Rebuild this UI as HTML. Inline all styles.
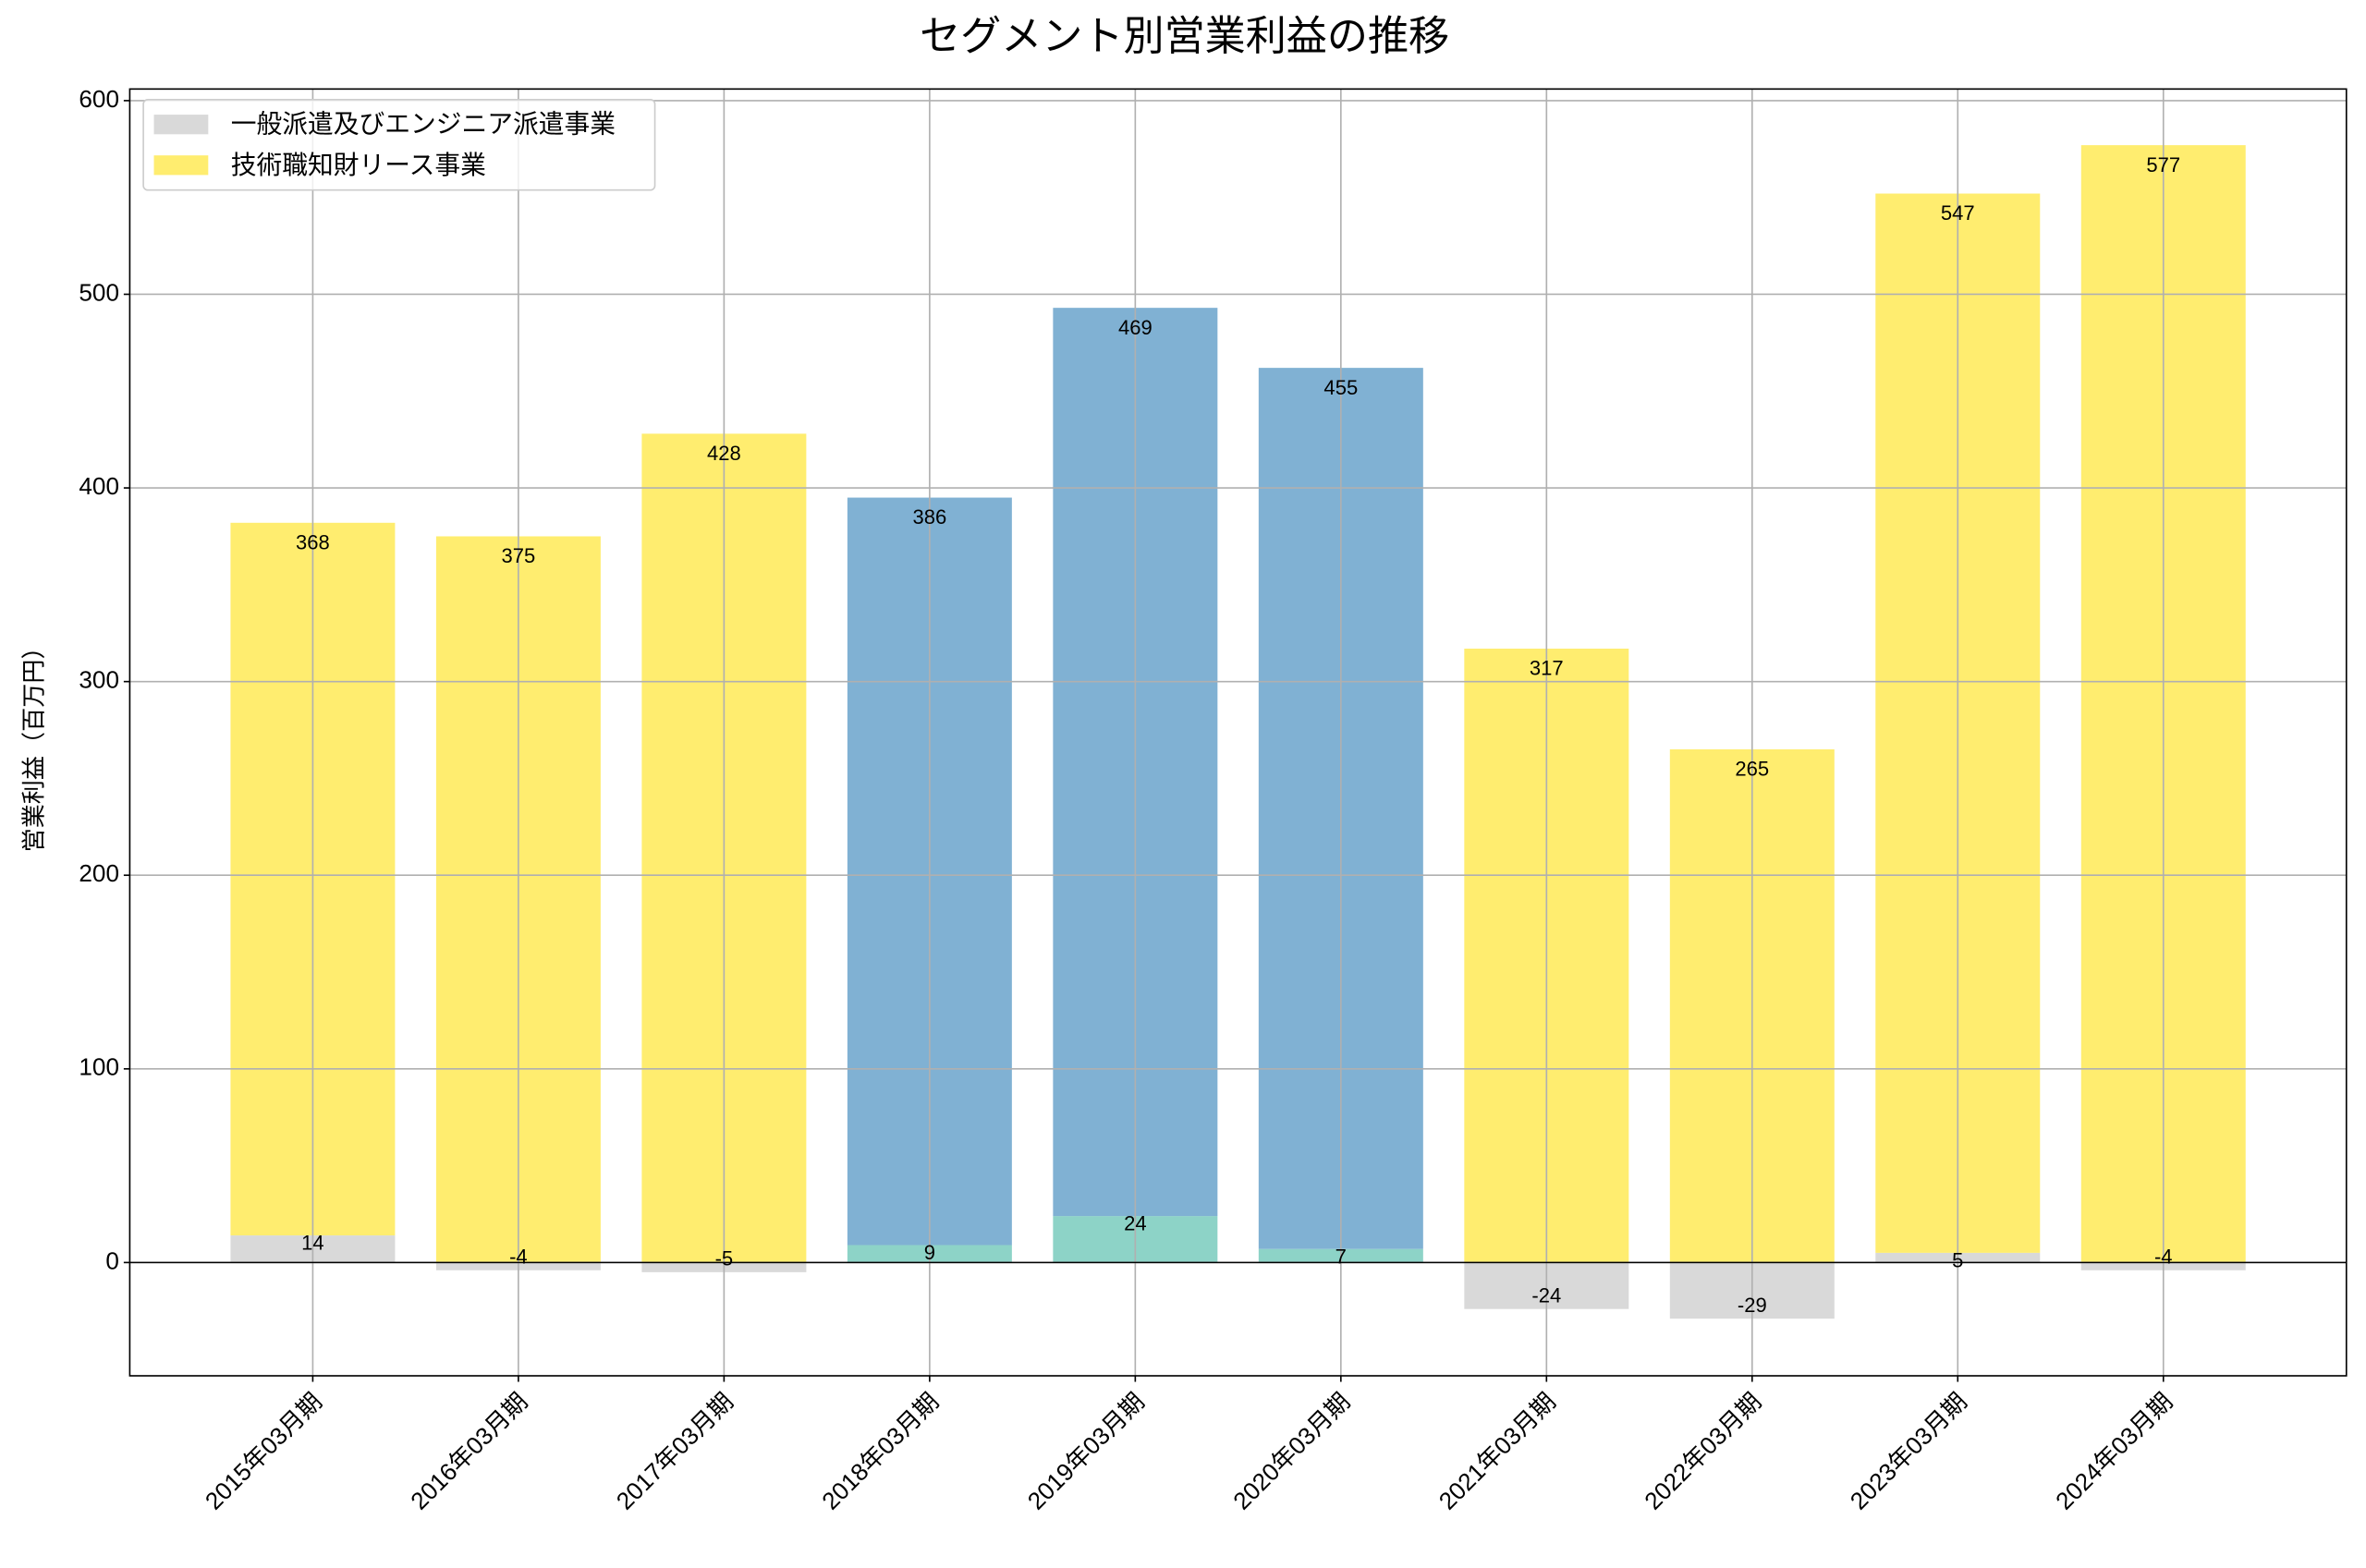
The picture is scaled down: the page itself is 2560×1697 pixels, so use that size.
<!DOCTYPE html>
<html><head><meta charset="utf-8"><style>
html,body{margin:0;padding:0;background:#fff}
svg{display:block}
text{font-family:"Liberation Sans","Noto Sans CJK JP",sans-serif;fill:#000}
</style></head><body>
<svg id="chart" width="2560" height="1697" viewBox="0 0 1568 1039.4" xmlns="http://www.w3.org/2000/svg">
<rect width="1568" height="1039.4" fill="#fff"/>
<text x="785" y="33" font-size="27" text-anchor="middle">セグメント別営業利益の推移</text>
<text transform="translate(28,493) rotate(-90)" font-size="16" text-anchor="middle">営業利益（百万円）</text>
<g id="bars"></g><g id="grid"></g><g id="labels"></g><g id="ticks"></g>
<rect x="86" y="59" width="1469" height="853" fill="none" stroke="#000" stroke-width="1"/>
<g>
<rect x="95" y="66" width="339" height="60" rx="3" fill="#fff" fill-opacity="0.8" stroke="#ccc"/>
<rect x="102" y="76" width="36" height="13" fill="#d9d9d9"/>
<text x="153" y="88" font-size="17">一般派遣及びエンジニア派遣事業</text>
<rect x="102" y="103" width="36" height="13" fill="#ffed6f"/>
<text x="153" y="115" font-size="17">技術職知財リース事業</text>
</g>
</svg>
<script>
const categories = ["2015年03月期","2016年03月期","2017年03月期","2018年03月期","2019年03月期","2020年03月期","2021年03月期","2022年03月期","2023年03月期","2024年03月期"];
const generalValues = [14,-4,-5,null,null,null,-24,-29,5,-4];
const techValues = [368,375,428,null,null,null,317,265,547,577];
const tealValues = [null,null,null,9,24,7,null,null,null,null];
const blueValues = [null,null,null,386,469,455,null,null,null,null];
const yTicks = [0,100,200,300,400,500,600];

const NS="http://www.w3.org/2000/svg";
const L=86,R=1555,T=59,B=912, XMIN=-0.89, XMAX=9.89, YMIN=-58.5, YMAX=606;
const xs=v=>L+(v-XMIN)/(XMAX-XMIN)*(R-L);
const ys=v=>B-(v-YMIN)/(YMAX-YMIN)*(B-T);
const bw=0.8*(R-L)/(XMAX-XMIN);
function mk(tag,parent,attrs){const e=document.createElementNS(NS,tag);for(const k in attrs)e.setAttribute(k,attrs[k]);document.getElementById(parent).appendChild(e);return e;}
function bar(i,y0,y1,color){const a=Math.min(ys(y0),ys(y1)),b=Math.max(ys(y0),ys(y1));
 const r=mk('rect','bars',{x:xs(i)-bw/2,y:a,width:bw,height:b-a,fill:color});
 
 }
function lab(x,y,t){const e=mk('text','labels',{x:x,y:y,'font-size':13.5,'text-anchor':'middle','dominant-baseline':'middle'});e.textContent=t;
 
 }
categories.forEach((c,i)=>{
 const lowV = generalValues[i]!==null?generalValues[i]:tealValues[i];
 const lowC = generalValues[i]!==null?'#d9d9d9':'#8dd3c7';
 const upV = techValues[i]!==null?techValues[i]:blueValues[i];
 const upC = techValues[i]!==null?'#ffed6f':'#80b1d3';
 bar(i,0,lowV,lowC);
 const base=Math.max(lowV,0);
 bar(i,base,base+upV,upC);
 lab(xs(i),ys(base+upV)+14,String(upV));
 lab(xs(i),lowV>=0?ys(lowV)+6:ys(lowV)-8,String(lowV));
});
yTicks.forEach(v=>{
 const g=mk('line','grid',{x1:L,x2:R,y1:ys(v),y2:ys(v),stroke:'#b0b0b0','stroke-width':1});
 
 
 mk('line','ticks',{x1:L-4,x2:L,y1:ys(v),y2:ys(v),stroke:'#000'});
 const t=mk('text','ticks',{x:L-7,y:ys(v),'font-size':16,'text-anchor':'end','dominant-baseline':'middle'});t.textContent=v;
 
 
});
categories.forEach((c,i)=>{
 const g=mk('line','grid',{x1:xs(i),x2:xs(i),y1:T,y2:B,stroke:'#b0b0b0','stroke-width':1});
 
 
 mk('line','ticks',{x1:xs(i),x2:xs(i),y1:B,y2:B+4,stroke:'#000'});
 const t=mk('text','ticks',{transform:`translate(${xs(i)+4},${B+15}) rotate(-45)`,'font-size':16,'text-anchor':'end','dominant-baseline':'middle'});t.textContent=c;
 
 
});
const z=mk('line','grid',{x1:L,x2:R,y1:ys(0),y2:ys(0),stroke:'#000','stroke-width':0.9});


</script>
</body></html>
